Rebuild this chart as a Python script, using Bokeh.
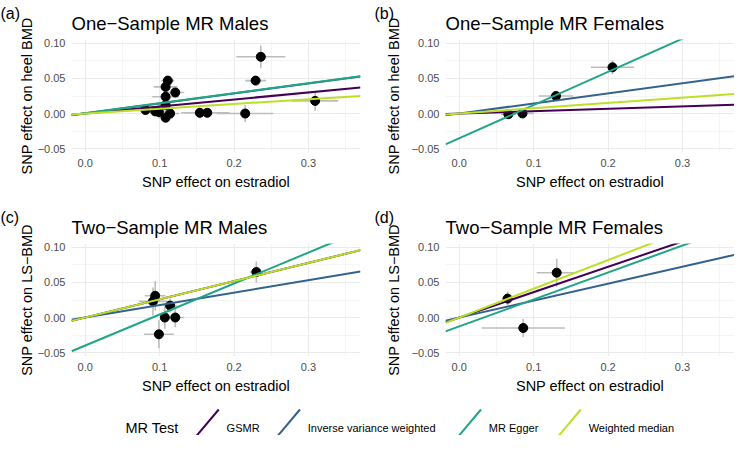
from bokeh.plotting import figure
from bokeh.layouts import column, row
from bokeh.models import Range1d, FixedTicker, Title
from bokeh.embed import file_html
from bokeh.resources import INLINE
from bokeh.core.properties import value

FONT = "Liberation Sans"

# ---------------- data ----------------
methods = ["GSMR", "Inverse variance weighted", "MR Egger", "Weighted median"]
method_colors = ["#440154", "#33638D", "#21A585", "#BCDF27"]

x_ticks = [0.0, 0.1, 0.2, 0.3]
x_tick_labels = ["0.0", "0.1", "0.2", "0.3"]
x_minor = [0.05, 0.15, 0.25, 0.35]
y_ticks = [-0.05, 0.0, 0.05, 0.1]
y_tick_labels = ["\u22120.05", "0.00", "0.05", "0.10"]
y_minor = [-0.025, 0.025, 0.075]

# (a) One-Sample MR Males
a_x = [0.081, 0.094, 0.099, 0.111, 0.108, 0.108, 0.121, 0.108, 0.114, 0.108, 0.154, 0.164, 0.215, 0.229, 0.236, 0.309]
a_y = [0.005, 0.003, 0.002, 0.047, 0.038, 0.024, 0.030, 0.012, 0.000, -0.006, 0.001, 0.001, 0.000, 0.047, 0.081, 0.018]
a_xe = [0.006, 0.012, 0.010, 0.009, 0.016, 0.018, 0.012, 0.010, 0.012, 0.010, 0.025, 0.030, 0.038, 0.014, 0.033, 0.031]
a_ye = [0.004, 0.006, 0.005, 0.006, 0.008, 0.007, 0.006, 0.010, 0.005, 0.006, 0.008, 0.006, 0.012, 0.005, 0.016, 0.014]
a_int = [0.0, 0.0, 0.0005, 0.0]
a_slope = [0.100, 0.143, 0.1425, 0.068]

# (b) One-Sample MR Females
b_x = [0.066, 0.085, 0.130, 0.206]
b_y = [-0.001, 0.000, 0.025, 0.066]
b_xe = [0.010, 0.015, 0.023, 0.029]
b_ye = [0.004, 0.004, 0.007, 0.010]
b_int = [0.0, 0.0, -0.0353, 0.0]
b_slope = [0.034, 0.144, 0.474, 0.075]

# (c) Two-Sample MR Males
c_x = [0.094, 0.091, 0.114, 0.107, 0.121, 0.099, 0.230]
c_y = [0.031, 0.023, 0.017, 0.000, 0.000, -0.024, 0.065]
c_xe = [0.014, 0.019, 0.009, 0.006, 0.012, 0.020, 0.009]
c_ye = [0.021, 0.020, 0.010, 0.016, 0.014, 0.020, 0.015]
c_int = [0.0, 0.0, -0.040, 0.0]
c_slope = [0.260, 0.178, 0.4425, 0.260]

# (d) Two-Sample MR Females
d_x = [0.065, 0.131, 0.086]
d_y = [0.027, 0.064, -0.015]
d_xe = [0.008, 0.027, 0.056]
d_ye = [0.010, 0.020, 0.013]
d_int = [0.0, 0.0, -0.0127, 0.0]
d_slope = [0.362, 0.242, 0.385, 0.410]

X_RANGE = (-0.0185, 0.37)
Y_RANGE = (-0.0557, 0.1057)

FRAME_W = 289
FRAME_H = 113
TOP_H = 39
BOTTOM_H = 52


def panel(tag, title, ylab, bx, by, bxe, bye, ints, slopes, left, right, ylab_standoff, tag_x):
    p = figure(output_backend="svg", toolbar_location=None,
               frame_width=FRAME_W, frame_height=FRAME_H,
               min_border_left=left, min_border_right=right,
               min_border_top=TOP_H, min_border_bottom=BOTTOM_H,
               x_range=Range1d(*X_RANGE), y_range=Range1d(*Y_RANGE),
               background_fill_color="white", border_fill_color="white")
    p.outline_line_color = None

    # outer title row: panel tag
    p.title.text = tag
    p.title.text_font = FONT
    p.title.text_font_size = "16px"
    p.title.text_font_style = "normal"
    p.title.text_color = "black"
    p.title.align = "left"
    p.title.offset = tag_x - left
    p.title.standoff = -34

    # inner title row: panel title (closest to the frame)
    p.add_layout(Title(text=title, align="left", standoff=12,
                       text_font=FONT, text_font_size="18.5px", text_font_style="normal",
                       text_color="black"), "above")

    p.xaxis.ticker = FixedTicker(ticks=x_ticks, minor_ticks=x_minor)
    p.yaxis.ticker = FixedTicker(ticks=y_ticks, minor_ticks=y_minor)
    p.xaxis.major_label_overrides = dict(zip(x_ticks, x_tick_labels))
    p.yaxis.major_label_overrides = dict(zip(y_ticks, y_tick_labels))

    for ax in (p.xaxis, p.yaxis):
        ax.axis_line_color = None
        ax.major_tick_line_color = None
        ax.minor_tick_line_color = None
        ax.major_tick_out = 0
        ax.major_tick_in = 0
        ax.minor_tick_out = 0
        ax.major_label_text_font = FONT
        ax.major_label_text_font_size = "11px"
        ax.major_label_text_color = "#4D4D4D"
        ax.major_label_standoff = 6
        ax.axis_label_text_font = FONT
        ax.axis_label_text_font_size = "14.5px"
        ax.axis_label_text_font_style = "normal"
        ax.axis_label_text_color = "black"
    p.xaxis.axis_label = "SNP effect on estradiol"
    p.xaxis.axis_label_standoff = 4
    p.yaxis.axis_label = ylab
    p.yaxis.axis_label_standoff = ylab_standoff

    for g in (p.xgrid, p.ygrid):
        g.grid_line_color = "#EBEBEB"
        g.grid_line_width = 1.1
        g.minor_grid_line_color = "#EFEFEF"
        g.minor_grid_line_width = 0.6

    # error bars
    x0 = [x - e for x, e in zip(bx, bxe)]
    x1 = [x + e for x, e in zip(bx, bxe)]
    y0 = [y - e for y, e in zip(by, bye)]
    y1 = [y + e for y, e in zip(by, bye)]
    p.segment(x0=x0, y0=by, x1=x1, y1=by, line_color="#BDBDBD", line_width=1.6)
    p.segment(x0=bx, y0=y0, x1=bx, y1=y1, line_color="#BDBDBD", line_width=1.6)

    # points
    p.scatter(bx, by, size=9, fill_color="black", line_color="black")

    # method lines
    xs = [X_RANGE[0], X_RANGE[1]]
    for b0, b1, col in zip(ints, slopes, method_colors):
        p.line(xs, [b0 + b1 * xv for xv in xs], line_color=col, line_width=2)
    return p


pa = panel("(a)", "One\u2212Sample MR Males", "SNP effect on heel BMD",
           a_x, a_y, a_xe, a_ye, a_int, a_slope, 71, 7, 0, 0)
pb = panel("(b)", "One\u2212Sample MR Females", "SNP effect on heel BMD",
           b_x, b_y, b_xe, b_ye, b_int, b_slope, 78, 0, 7, 7)
pc = panel("(c)", "Two\u2212Sample MR Males", "SNP effect on LS\u2212BMD",
           c_x, c_y, c_xe, c_ye, c_int, c_slope, 71, 7, 0, 0)
pd = panel("(d)", "Two\u2212Sample MR Females", "SNP effect on LS\u2212BMD",
           d_x, d_y, d_xe, d_ye, d_int, d_slope, 78, 0, 7, 7)

# ---------------- legend ----------------
legend_title = "MR Test"
key_left = [192, 275, 460, 562]   # layout positions (reference px)
KEY_W = 31
LEG_H = 27
TEXT_Y = 8
TEXT_GAP = 39

pl = figure(output_backend="svg", toolbar_location=None, width=734, height=LEG_H,
            x_range=Range1d(0, 750), y_range=Range1d(0, LEG_H), min_border=0,
            background_fill_color="white", border_fill_color="white")
pl.outline_line_color = None
pl.xaxis.visible = False
pl.yaxis.visible = False
pl.xgrid.visible = False
pl.ygrid.visible = False

pl.segment(x0=key_left, y0=[TEXT_Y - 18] * 4, x1=[k + KEY_W for k in key_left],
           y1=[TEXT_Y + 18] * 4, line_color=method_colors, line_width=2)
pl.text(x=[k + TEXT_GAP for k in key_left], y=[TEXT_Y] * 4, text=methods,
        text_font=value(FONT), text_font_size="11px", text_color="black",
        text_baseline="middle", text_align="left")
pl.text(x=[182], y=[TEXT_Y], text=[legend_title],
        text_font=value(FONT), text_font_size="14.5px", text_color="black",
        text_baseline="middle", text_align="right")

layout = column(row(pa, pb), row(pc, pd), pl)

open("out.html", "w").write(file_html(layout, INLINE))
